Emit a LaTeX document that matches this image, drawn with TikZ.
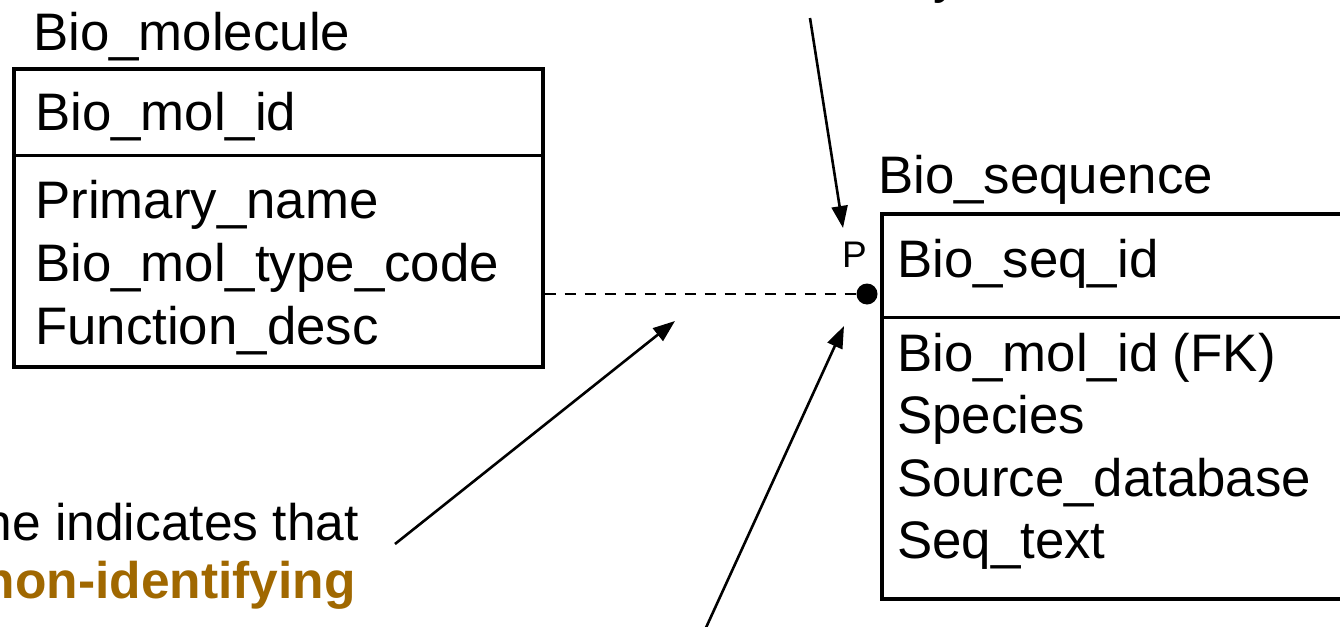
\documentclass[tikz,border=0pt]{standalone}
\usepackage{fontspec}
\setmainfont{Liberation Sans}
\usetikzlibrary{arrows.meta}
\definecolor{brownish}{RGB}{160,104,0}
\begin{document}
\begin{tikzpicture}[x=1pt,y=-1pt,
  txt/.style={anchor=base west, inner sep=0pt, font=\fontsize{52.8}{60}\selectfont},
  note/.style={anchor=base east, inner sep=0pt, font=\fontsize{51.5}{60}\selectfont},
  small/.style={anchor=base east, inner sep=0pt, font=\fontsize{37}{40}\selectfont},
  box/.style={draw, line width=3.5pt, inner sep=0pt, anchor=north west},
  divider/.style={line width=3pt},
  pointer/.style={line width=2.6pt, -{Triangle[length=22pt,width=16pt]}},
  rel/.style={line width=2.8pt, dash pattern=on 11pt off 9pt},
  dotmark/.style={circle, fill, inner sep=0pt, minimum size=21pt}]
\useasboundingbox (0,0) rectangle (1340,626);
\fill[white] (0,0) rectangle (1340,626);
\clip (0,0) rectangle (1340,626);

% Bio_molecule entity
\node[txt] (molTitle) at (33,51) {Bio\_molecule};
\node[box, minimum width=529pt, minimum height=298pt] (mol) at (12,67) {};
\coordinate (molDiv) at (0,155);
\draw[divider] (mol.west |- molDiv) -- (mol.east |- molDiv);
\node[txt] (molKey) at (35,130) {Bio\_mol\_id};
\node[txt] (molA1) at (35,218) {Primary\_name};
\node[txt] (molA2) at (35,281) {Bio\_mol\_type\_code};
\node[txt] (molA3) at (35,344) {Function\_desc};

% Bio_sequence entity
\node[txt] (seqTitle) at (878,193) {Bio\_sequence};
\node[box, minimum width=520pt, minimum height=385pt] (seq) at (880,212) {};
\coordinate (seqDiv) at (0,317);
\draw[divider] (seq.west |- seqDiv) -- (seq.east |- seqDiv);
\node[txt] (seqKey) at (897,277) {Bio\_seq\_id};
\node[txt] (seqA1) at (897,371) {Bio\_mol\_id (FK)};
\node[txt] (seqA2) at (897,433) {Species};
\node[txt] (seqA3) at (897,496) {Source\_database};
\node[txt] (seqA4) at (897,558) {Seq\_text};

% relationship
\node[small] (pLabel) at (867,267) {P};
\node[dotmark] (dot) at (867,294) {};
\draw[rel] (mol.east |- dot) -- (dot.west);

% annotation text (clipped at the picture's edges)
\node[txt] (topText) at (933,-7) {y};
\node[note] (note1) at (359,540) {ne indicates that};
\node[note, font=\fontsize{51.5}{60}\selectfont\bfseries, text=brownish] (note2) at (356,598) {non-identifying};

% pointers
\coordinate (p1s) at (810,18);
\coordinate (p1e) at (843,228);
\coordinate (p2s) at (395,544);
\coordinate (p2e) at (675,321);
\coordinate (p3s) at (704,632);
\coordinate (p3e) at (844,326);
\draw[pointer] (p1s) -- (p1e);
\draw[pointer] (p2s) -- (p2e);
\draw[pointer] (p3s) -- (p3e);
\end{tikzpicture}
\end{document}
